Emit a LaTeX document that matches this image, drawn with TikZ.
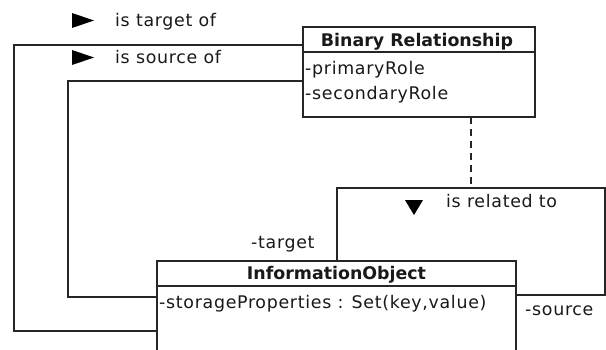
\documentclass[tikz,border=0pt]{standalone}
\usepackage{fontspec}
\setmainfont{DejaVu Sans}
\newfontfamily\lblfont[LetterSpace=4]{DejaVu Sans}
\begin{document}
\begin{tikzpicture}[x=1pt,y=1pt,
  line/.style={draw=black!85,line width=1.2pt},
  cls/.style={line},
  lbl/.style={inner sep=0pt,anchor=base west,font=\lblfont\fontsize{17.4}{20}\selectfont,text=black!90},
  hdr/.style={inner sep=0pt,anchor=base,font=\bfseries\fontsize{17.4}{20}\selectfont,text=black!90},
  tri/.style={fill=black}]
\useasboundingbox (0,0) rectangle (606,-349);
\begin{scope}
\clip (0,0) rectangle (606,-349);
% Binary Relationship class
\draw[cls,fill=white] (303,-27) rectangle (535,-117);
\draw[cls] (303,-52) -- (535,-52);
\coordinate (brNW) at (303,-27);
\coordinate (brSE) at (535,-117);
\node[hdr] (brT) at (417,-46) {Binary Relationship};
\node[lbl] (brA) at (305,-74) {-primaryRole};
\node[lbl] (brB) at (305,-99) {-secondaryRole};
% InformationObject class
\draw[cls,fill=white] (157,-261) rectangle (516,-360);
\draw[cls] (157,-286) -- (516,-286);
\coordinate (ioNW) at (157,-261);
\coordinate (ioSE) at (516,-360);
\node[hdr] (ioT) at (336.5,-279) {InformationObject};
\node[lbl] (ioA) at (159,-308) {-storageProperties : Set(key,value)};
% associations
\draw[line] (brNW |- 0,-45) -- (14,-45) -- (14,-331) -- (ioNW |- 0,-331);
\draw[line] (brNW |- 0,-81) -- (68,-81) -- (68,-297) -- (ioNW |- 0,-297);
% self association
\draw[line] (337,-261) -- (337,-188) -- (605,-188) -- (605,-295) -- (ioSE |- 0,-295);
\draw[line,dashed,dash pattern=on 7pt off 5pt] (471,-117) -- (471,-188);
\end{scope}
% association names and roles
\fill[tri] (72,-13) -- (94,-20.5) -- (72,-28) -- cycle;
\node[lbl] (tgtOf) at (115,-26) {is target of};
\fill[tri] (72,-50) -- (94,-57.5) -- (72,-65) -- cycle;
\node[lbl] (srcOf) at (115,-63) {is source of};
\fill[tri] (405,-200) -- (423,-200) -- (414,-215) -- cycle;
\node[lbl] (relTo) at (446,-207) {is related to};
\node[lbl] (rTarget) at (251,-248) {-target};
\node[lbl] (rSource) at (525,-315) {-source};
\end{tikzpicture}
\end{document}
